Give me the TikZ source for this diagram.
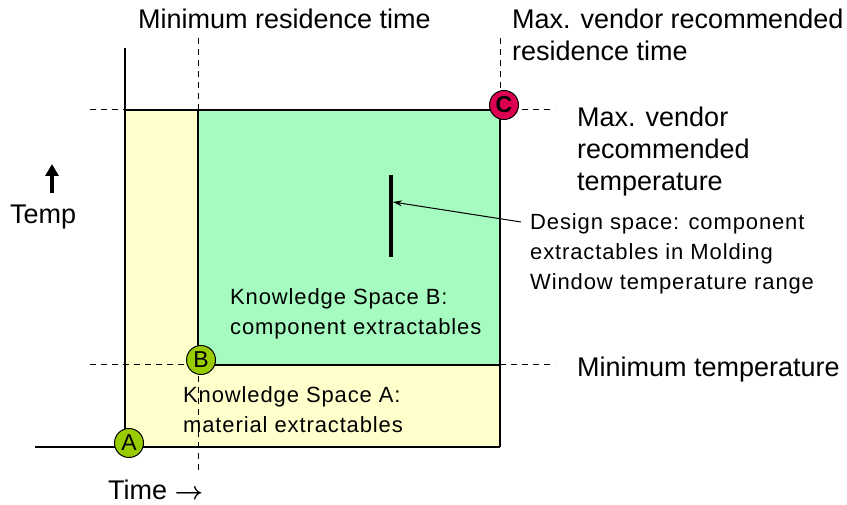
\documentclass[tikz,border=0pt]{standalone}
\usepackage{amsmath}
\usepackage{fontspec}
\setmainfont{Liberation Sans}
\usetikzlibrary{arrows.meta}
\definecolor{ylw}{RGB}{255,255,204}
\definecolor{grn}{RGB}{166,251,192}
\definecolor{cred}{RGB}{222,0,80}
\definecolor{lime}{RGB}{153,204,0}
\begin{document}
\begin{tikzpicture}[x=1pt,y=-1pt,
  big/.style={font=\fontsize{27}{32}\selectfont,inner sep=0pt,align=left},
  small/.style={font=\fontsize{22}{30}\selectfont\addfontfeature{LetterSpace=4},inner sep=0pt,align=left},
  axis/.style={line width=1.2pt},
  guide/.style={line width=1pt,dash pattern=on 6pt off 5pt},
  edge/.style={line width=1.2pt},
  marker/.style={circle,draw=black,line width=1pt,minimum size=29pt,inner sep=0pt,font=\fontsize{23}{23}\selectfont}]
\useasboundingbox (0,0) rectangle (847,505);
% regions
\fill[ylw] (125,110) rectangle (500,447);
\fill[grn] (198,110) rectangle (500,365);
\draw[edge] (125,110) -- (500,110) -- (500,447);
\draw[edge] (198,110) -- (198,365) -- (500,365);
% axes
\coordinate (yt) at (125,48);
\coordinate (yb) at (125,447);
\coordinate (xl) at (35,447);
\coordinate (xr) at (500,447);
\draw[axis] (yt) -- (yb);
\draw[axis] (xl) -- (xr);
% guides
\coordinate (g1a) at (90,110); \coordinate (g1b) at (125,110);
\coordinate (g2a) at (500,110); \coordinate (g2b) at (555,110);
\coordinate (g3a) at (90,365); \coordinate (g3b) at (198,365);
\coordinate (g4a) at (500,365); \coordinate (g4b) at (555,365);
\coordinate (g5a) at (198,38); \coordinate (g5b) at (198,110);
\coordinate (g6a) at (198,365); \coordinate (g6b) at (198,472);
\coordinate (g7a) at (500,38); \coordinate (g7b) at (500,110);
\draw[guide] (g1a) -- (g1b);
\draw[guide] (g2a) -- (g2b);
\draw[guide] (g3a) -- (g3b);
\draw[guide] (g4a) -- (g4b);
\draw[guide] (g5a) -- (g5b);
\draw[guide] (g6a) -- (g6b);
\draw[guide] (g7a) -- (g7b);
% design space bar
\coordinate (bt) at (391,175);
\coordinate (bb) at (391,257);
\draw[line width=3.5pt] (bt) -- (bb);
\coordinate (bm) at (393,202);
% markers
\node[marker,fill=cred] (C) at (504,105) {\textbf{C}};
\node[marker,fill=lime] (B) at (201,360) {B};
\node[marker,fill=lime] (A) at (129,443) {A};
% labels
\node[big,anchor=base west] (minres) at (138,29) {Minimum residence time};
\node[big,anchor=base west] (maxres) at (512,29) {Max. vendor recommended};
\node[big,anchor=base west] (maxres2) at (512,61) {residence time};
\node[big,anchor=base west] (maxtemp) at (577,191) {Max. vendor\\recommended\\temperature};
\node[big,anchor=base west] (mintemp) at (577,377) {Minimum temperature};
\node[big,anchor=base west] (temp) at (10,224) {Temp};
\node[big,anchor=base west] (time) at (108,499) {Time $\boldsymbol{\rightarrow}$};
\node[small,anchor=base west] (design) at (530,290) {Design space: component\\extractables in Molding\\Window temperature range};
\node[small,anchor=base west] (ksb) at (230,335) {Knowledge Space B:\\component extractables};
\node[small,anchor=base west] (ksa) at (183,432) {Knowledge Space A:\\material extractables};
% temp arrow
\coordinate (ta) at (52,193);
\coordinate (tb) at (52,164);
\draw[line width=4pt,-{Triangle[width=13pt,length=12pt]}] (ta) -- (tb);
% design pointer
\coordinate (dp) at (521,222);
\draw[line width=1pt,-{Stealth[length=9pt,width=6pt]}] (dp) -- (bm);
\end{tikzpicture}
\end{document}
